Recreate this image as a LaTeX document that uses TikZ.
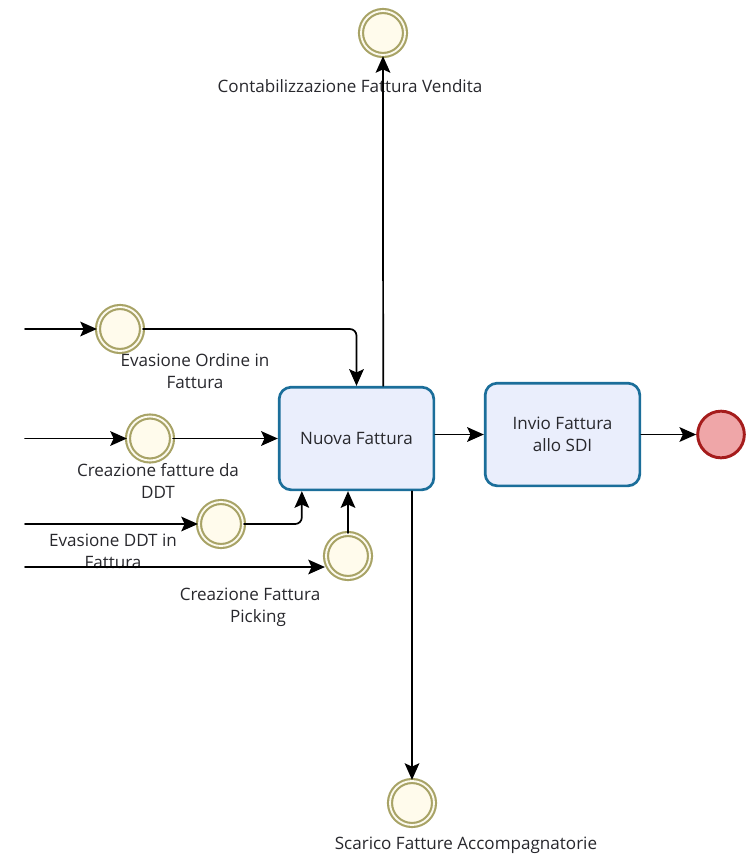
\documentclass[tikz,border=0pt]{standalone}
\usepackage{fontspec}
\setmainfont{Open Sans}
\usetikzlibrary{arrows.meta}
\definecolor{bpmnolive}{RGB}{168,163,102}
\definecolor{bpmnring}{RGB}{252,250,238}
\definecolor{bpmncream}{RGB}{255,251,236}
\definecolor{bpmnblue}{RGB}{27,110,154}
\definecolor{bpmntask}{RGB}{234,238,252}
\definecolor{bpmnred}{RGB}{165,28,28}
\definecolor{bpmnpink}{RGB}{239,166,168}
\definecolor{bpmntext}{RGB}{40,40,45}

\begin{document}
\begin{tikzpicture}[x=0.75pt,y=-0.75pt]
  \tikzstyle{myline}=[line width=1.3pt, line cap=round, line join=round];
  \tikzstyle{mytext}=[draw=none, text=bpmntext, align=center, inner sep=0pt,
    font=\fontsize{12.8}{16.5}\selectfont];
  \tikzstyle{myconn}=[myline, -{Stealth[length=12.5pt,width=11pt,inset=2.5pt]}];
  \tikzstyle{myevent}=[circle, draw=bpmnolive, line width=1.6pt, double=bpmnring,
    double distance=1.4pt, fill=bpmncream, minimum size=33pt, inner sep=0pt];
  \tikzstyle{mytask}=[mytext, rectangle, rounded corners=9pt, draw=bpmnblue,
    line width=2pt, fill=bpmntask, minimum width=116pt, minimum height=77pt];
  \tikzstyle{myend}=[circle, draw=bpmnred, line width=2.2pt, fill=bpmnpink,
    minimum size=35pt, inner sep=0pt];
  \useasboundingbox (0,0) rectangle (749,854);
  %
  % tasks
  \node[mytask] (nuova) at (356.5,438.5) {Nuova Fattura};
  \node[mytask] (invio) at (562.5,434.5) {Invio Fattura\\allo SDI};
  \node[myend] (fine) at (721,434.5) {};
  %
  % start events
  \node[myevent] (ordine) at (120,329) {};
  \node[mytext] (ordinelbl) at (195,371) {Evasione Ordine in\\Fattura};
  \node[myevent] (ddt) at (150,438.5) {};
  \node[mytext] (ddtlbl) at (158,481) {Creazione fatture da\\DDT};
  \node[myevent] (evddt) at (221,524) {};
  \node[mytext] (evddtlbl) at (113,551) {Evasione DDT in\\Fattura};
  \node[myevent] (picking) at (348,556) {};
  \node[mytext] (pickinglbl) at (250,607) {Creazione Fattura\\\hspace*{12pt}Picking};
  %
  % end events
  \node[myevent] (contab) at (383,33) {};
  \node[mytext] (contablbl) at (350,86) {Contabilizzazione Fattura Vendita};
  \node[myevent] (scarico) at (412,803) {};
  \node[mytext] (scaricolbl) at (466,845) {Scarico Fatture Accompagnatorie};
  %
  % free ends on the left
  \coordinate (ordinein) at (25,329);
  \coordinate (ddtin) at (25,438.5);
  \coordinate (evddtin) at (25,524);
  \coordinate (pickingin) at (25,567);
  %
  % incoming flows
  \draw[myconn] (ordinein) -- (ordine.west);
  \draw[myconn] (ddtin) -- (ddt.west);
  \draw[myconn] (evddtin) -- (evddt.west);
  \draw[myconn] (pickingin) -- (pickingin -| picking.west);
  %
  % into Nuova Fattura
  \draw[myconn, rounded corners=5pt] (ordine.east) -| (nuova.north);
  \draw[myconn] (ddt.east) -- (nuova.west);
  \draw[myconn, rounded corners=5pt] (evddt.east) -| ([xshift=-41pt]nuova.south);
  \draw[myconn] (picking.north) -- (picking.north |- nuova.south);
  %
  % out of Nuova Fattura
  \draw[myconn] ([xshift=20pt]nuova.north) -- (contab.south);
  \draw[myconn] ([xshift=41.6pt]nuova.south) -- (scarico.north);
  \draw[myconn] (invio.west -| nuova.east) -- (invio.west);
  \draw[myconn] (invio.east) -- (fine.west);
\end{tikzpicture}
\end{document}
